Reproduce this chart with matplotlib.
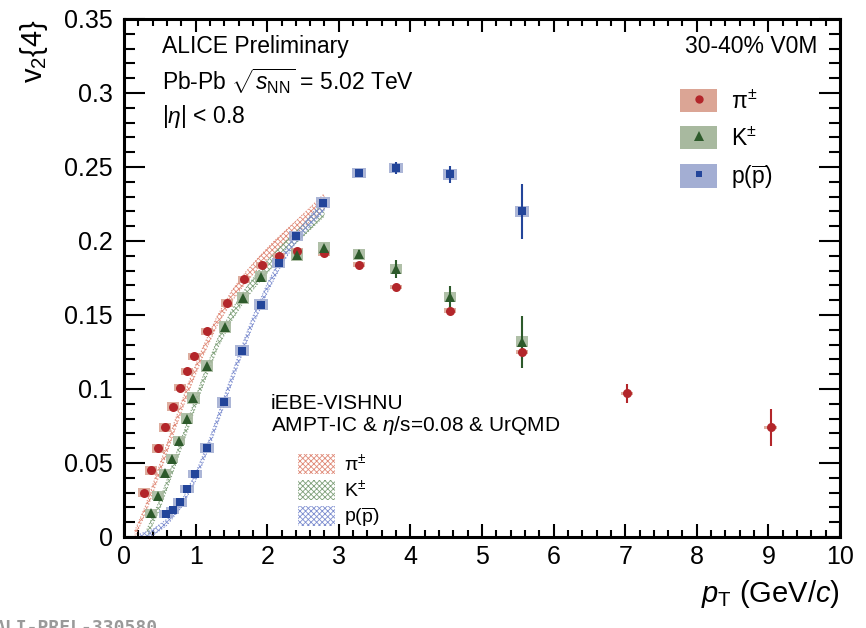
import numpy as np
import matplotlib
matplotlib.use('Agg')
import matplotlib.pyplot as plt
from matplotlib.patches import Patch
from matplotlib.lines import Line2D
from matplotlib.ticker import MultipleLocator

plt.rcParams['font.family'] = ['Liberation Sans', 'DejaVu Sans']
plt.rcParams['mathtext.fontset'] = 'custom'
plt.rcParams['mathtext.rm'] = 'Liberation Sans'
plt.rcParams['mathtext.it'] = 'Liberation Sans:italic'
plt.rcParams['hatch.linewidth'] = 0.6

# measured v2{4}, pions
pi_pt = [0.28, 0.38, 0.47, 0.57, 0.68, 0.78, 0.88, 0.98, 1.16, 1.44, 1.68, 1.93, 2.16, 2.42, 2.79, 3.28, 3.8, 4.55, 5.56, 7.03, 9.03]
pi_v2 = [0.030, 0.045, 0.060, 0.074, 0.088, 0.101, 0.112, 0.122, 0.139, 0.158, 0.174, 0.184, 0.190, 0.193, 0.192, 0.184, 0.169, 0.153, 0.125, 0.097, 0.074]
pi_stat = [0.001, 0.001, 0.001, 0.001, 0.001, 0.001, 0.001, 0.001, 0.001, 0.001, 0.001, 0.001, 0.001, 0.001, 0.001, 0.0015, 0.002, 0.003, 0.005, 0.0065, 0.0125]
pi_sys = [0.003, 0.003, 0.003, 0.0032, 0.003, 0.0025, 0.0025, 0.0025, 0.0025, 0.0025, 0.0022, 0.002, 0.002, 0.002, 0.002, 0.0018, 0.0015, 0.0015, 0.0015, 0.001, 0.001]

# kaons
ka_pt = [0.38, 0.47, 0.57, 0.67, 0.77, 0.88, 0.97, 1.16, 1.41, 1.66, 1.91, 2.42, 2.79, 3.28, 3.8, 4.55, 5.56]
ka_v2 = [0.016, 0.028, 0.043, 0.053, 0.065, 0.080, 0.094, 0.1155, 0.142, 0.1615, 0.176, 0.1905, 0.195, 0.191, 0.181, 0.162, 0.132]
ka_stat = [0.001, 0.001, 0.001, 0.001, 0.001, 0.001, 0.001, 0.001, 0.001, 0.001, 0.001, 0.001, 0.0015, 0.003, 0.006, 0.0075, 0.0175]
ka_sys = [0.003, 0.003, 0.003, 0.003, 0.003, 0.0035, 0.004, 0.004, 0.004, 0.004, 0.004, 0.004, 0.004, 0.0035, 0.0035, 0.0035, 0.0035]

# protons
p_pt = [0.59, 0.68, 0.78, 0.88, 0.99, 1.16, 1.4, 1.65, 1.91, 2.16, 2.4, 2.78, 3.28, 3.8, 4.55, 5.56]
p_v2 = [0.0155, 0.018, 0.0236, 0.0324, 0.0426, 0.060, 0.091, 0.126, 0.157, 0.185, 0.2034, 0.226, 0.246, 0.2495, 0.245, 0.220]
p_stat = [0.001, 0.001, 0.001, 0.001, 0.001, 0.001, 0.001, 0.001, 0.001, 0.001, 0.001, 0.001, 0.002, 0.004, 0.006, 0.0185]
p_sys = [0.0025, 0.0025, 0.003, 0.003, 0.003, 0.0035, 0.0035, 0.0035, 0.0035, 0.0035, 0.0035, 0.0035, 0.0035, 0.0035, 0.0035, 0.0035]

# iEBE-VISHNU bands (lower / upper edge)
pi_mod_pt = [0.15, 0.3, 0.5, 0.7, 0.9, 1.1, 1.3, 1.5, 1.7, 1.9, 2.1, 2.3, 2.5, 2.8]
pi_mod_lo = [0.000, 0.016, 0.043, 0.071, 0.098, 0.122, 0.143, 0.159, 0.172, 0.183, 0.192, 0.201, 0.209, 0.222]
pi_mod_hi = [0.004, 0.021, 0.049, 0.077, 0.104, 0.128, 0.149, 0.166, 0.179, 0.190, 0.200, 0.209, 0.218, 0.232]

ka_mod_pt = [0.32, 0.5, 0.7, 0.9, 1.1, 1.3, 1.5, 1.7, 1.9, 2.1, 2.3, 2.5, 2.8]
ka_mod_lo = [0.000, 0.019, 0.046, 0.074, 0.102, 0.127, 0.146, 0.161, 0.173, 0.184, 0.194, 0.203, 0.217]
ka_mod_hi = [0.005, 0.025, 0.052, 0.080, 0.108, 0.133, 0.153, 0.168, 0.181, 0.192, 0.202, 0.211, 0.227]

p_mod_pt = [0.22, 0.4, 0.6, 0.8, 1.0, 1.2, 1.4, 1.6, 1.8, 2.0, 2.2, 2.4, 2.6, 2.8]
p_mod_lo = [0.000, 0.001, 0.008, 0.020, 0.038, 0.062, 0.089, 0.117, 0.143, 0.165, 0.184, 0.199, 0.210, 0.221]
p_mod_hi = [0.002, 0.005, 0.012, 0.024, 0.043, 0.067, 0.095, 0.123, 0.149, 0.171, 0.190, 0.205, 0.217, 0.229]

labels = ['π$^{\\pm}$', 'K$^{\\pm}$', r'p($\overline{\mathrm{p}}$)']

red, green, blue = '#b3262a', '#2d5a2b', '#23459a'
red_box, green_box, blue_box = '#dba595', '#a8b99f', '#a3aed3'
red_h, green_h, blue_h = '#e08a78', '#7fa07a', '#7f8fd0'

fig = plt.figure(figsize=(8.66, 6.28), dpi=100)
ax = fig.add_axes([124/866, 91/628, 716/866, 518/628])

# hydro bands
for x, lo, hi, c in [(pi_mod_pt, pi_mod_lo, pi_mod_hi, red_h),
                     (ka_mod_pt, ka_mod_lo, ka_mod_hi, green_h),
                     (p_mod_pt, p_mod_lo, p_mod_hi, blue_h)]:
    ax.fill_between(x, lo, hi, facecolor='none', edgecolor=c, hatch='xxxxxx', linewidth=0, zorder=2)
    ax.plot(x, lo, color=c, lw=0.8, ls=':', zorder=2)
    ax.plot(x, hi, color=c, lw=0.8, ls=':', zorder=2)

# systematic boxes + points
for pt, v2, st, sy, c, cb, m, ms, bw in [
        (pi_pt, pi_v2, pi_stat, pi_sys, red, red_box, 'o', 6.5, 0.17),
        (ka_pt, ka_v2, ka_stat, ka_sys, green, green_box, '^', 7.5, 0.17),
        (p_pt, p_v2, p_stat, p_sys, blue, blue_box, 's', 5.5, 0.19)]:
    pt = np.array(pt); v2 = np.array(v2); sy = np.array(sy)
    ax.bar(pt, 2 * sy, width=bw, bottom=v2 - sy, color=cb, alpha=0.9, linewidth=0, zorder=3)
    ax.errorbar(pt, v2, yerr=st, fmt=m, color=c, ms=ms, mew=0, elinewidth=1.5, capsize=0, zorder=4)

ax.set_xlim(0, 10)
ax.set_ylim(0, 0.35)
ax.xaxis.set_major_locator(MultipleLocator(1))
ax.xaxis.set_minor_locator(MultipleLocator(0.2))
ax.yaxis.set_major_locator(MultipleLocator(0.05))
ax.yaxis.set_minor_locator(MultipleLocator(0.01))
ax.set_xticks(range(11), [str(i) for i in range(11)])
ax.set_yticks([0, 0.05, 0.1, 0.15, 0.2, 0.25, 0.3, 0.35],
              ['0', '0.05', '0.1', '0.15', '0.2', '0.25', '0.3', '0.35'])
ax.tick_params(which='both', direction='in', top=True, right=True, labelsize=18, width=1.5)
ax.tick_params(axis='y', which='major', length=15, pad=8)
ax.tick_params(axis='y', which='minor', length=8)
ax.tick_params(axis='x', which='major', length=9.5, pad=6)
ax.tick_params(axis='x', which='minor', length=5)
for s in ax.spines.values():
    s.set_linewidth(2.2)

ax.set_xlabel(r'$p_{\mathrm{T}}$ (GeV/$c$)', fontsize=21, loc='right', labelpad=6)
ax.set_ylabel(r'v$_2${4}', fontsize=21, loc='top', labelpad=10)

ax.text(0.053, 0.947, 'ALICE Preliminary', transform=ax.transAxes, fontsize=16.5, va='center')
ax.text(0.053, 0.88, r'Pb-Pb $\sqrt{s_{\mathrm{NN}}}$ = 5.02 TeV', transform=ax.transAxes, fontsize=16.5, va='center')
ax.text(0.053, 0.812, r'|$\eta$| < 0.8', transform=ax.transAxes, fontsize=16.5, va='center')
ax.text(0.968, 0.947, '30-40% V0M', transform=ax.transAxes, fontsize=16.5, va='center', ha='right')

# data legend
h_data = [(Patch(facecolor=red_box), Line2D([], [], marker='o', color=red, ls='', ms=6, mew=0)),
          (Patch(facecolor=green_box), Line2D([], [], marker='^', color=green, ls='', ms=7, mew=0)),
          (Patch(facecolor=blue_box), Line2D([], [], marker='s', color=blue, ls='', ms=5, mew=0))]
leg1 = ax.legend(h_data, labels,
                 loc='upper left', bbox_to_anchor=(0.748, 0.905), frameon=False, fontsize=16.5,
                 handlelength=1.6, handleheight=1.2, labelspacing=0.55, handletextpad=0.6)
ax.add_artist(leg1)

# model legend
ax.text(0.205, 0.257, 'iEBE-VISHNU', transform=ax.transAxes, fontsize=15, va='center')
ax.text(0.205, 0.215, r'AMPT-IC & $\eta$/s=0.08 & UrQMD', transform=ax.transAxes, fontsize=15, va='center')
h_mod = [Patch(facecolor='none', edgecolor=c, hatch='xxxxxx', linewidth=0) for c in (red_h, green_h, blue_h)]
ax.legend(h_mod, labels,
          loc='upper left', bbox_to_anchor=(0.218, 0.195), frameon=False, fontsize=14,
          handlelength=1.9, handleheight=1.2, labelspacing=0.25, handletextpad=0.5)

fig.text(-0.006, 0.014, 'ALI-PREL-330580', family='DejaVu Sans Mono', fontsize=13,
         color='#9a9a9a', va='top', fontweight='bold')

fig.savefig('out.png', dpi=100)
